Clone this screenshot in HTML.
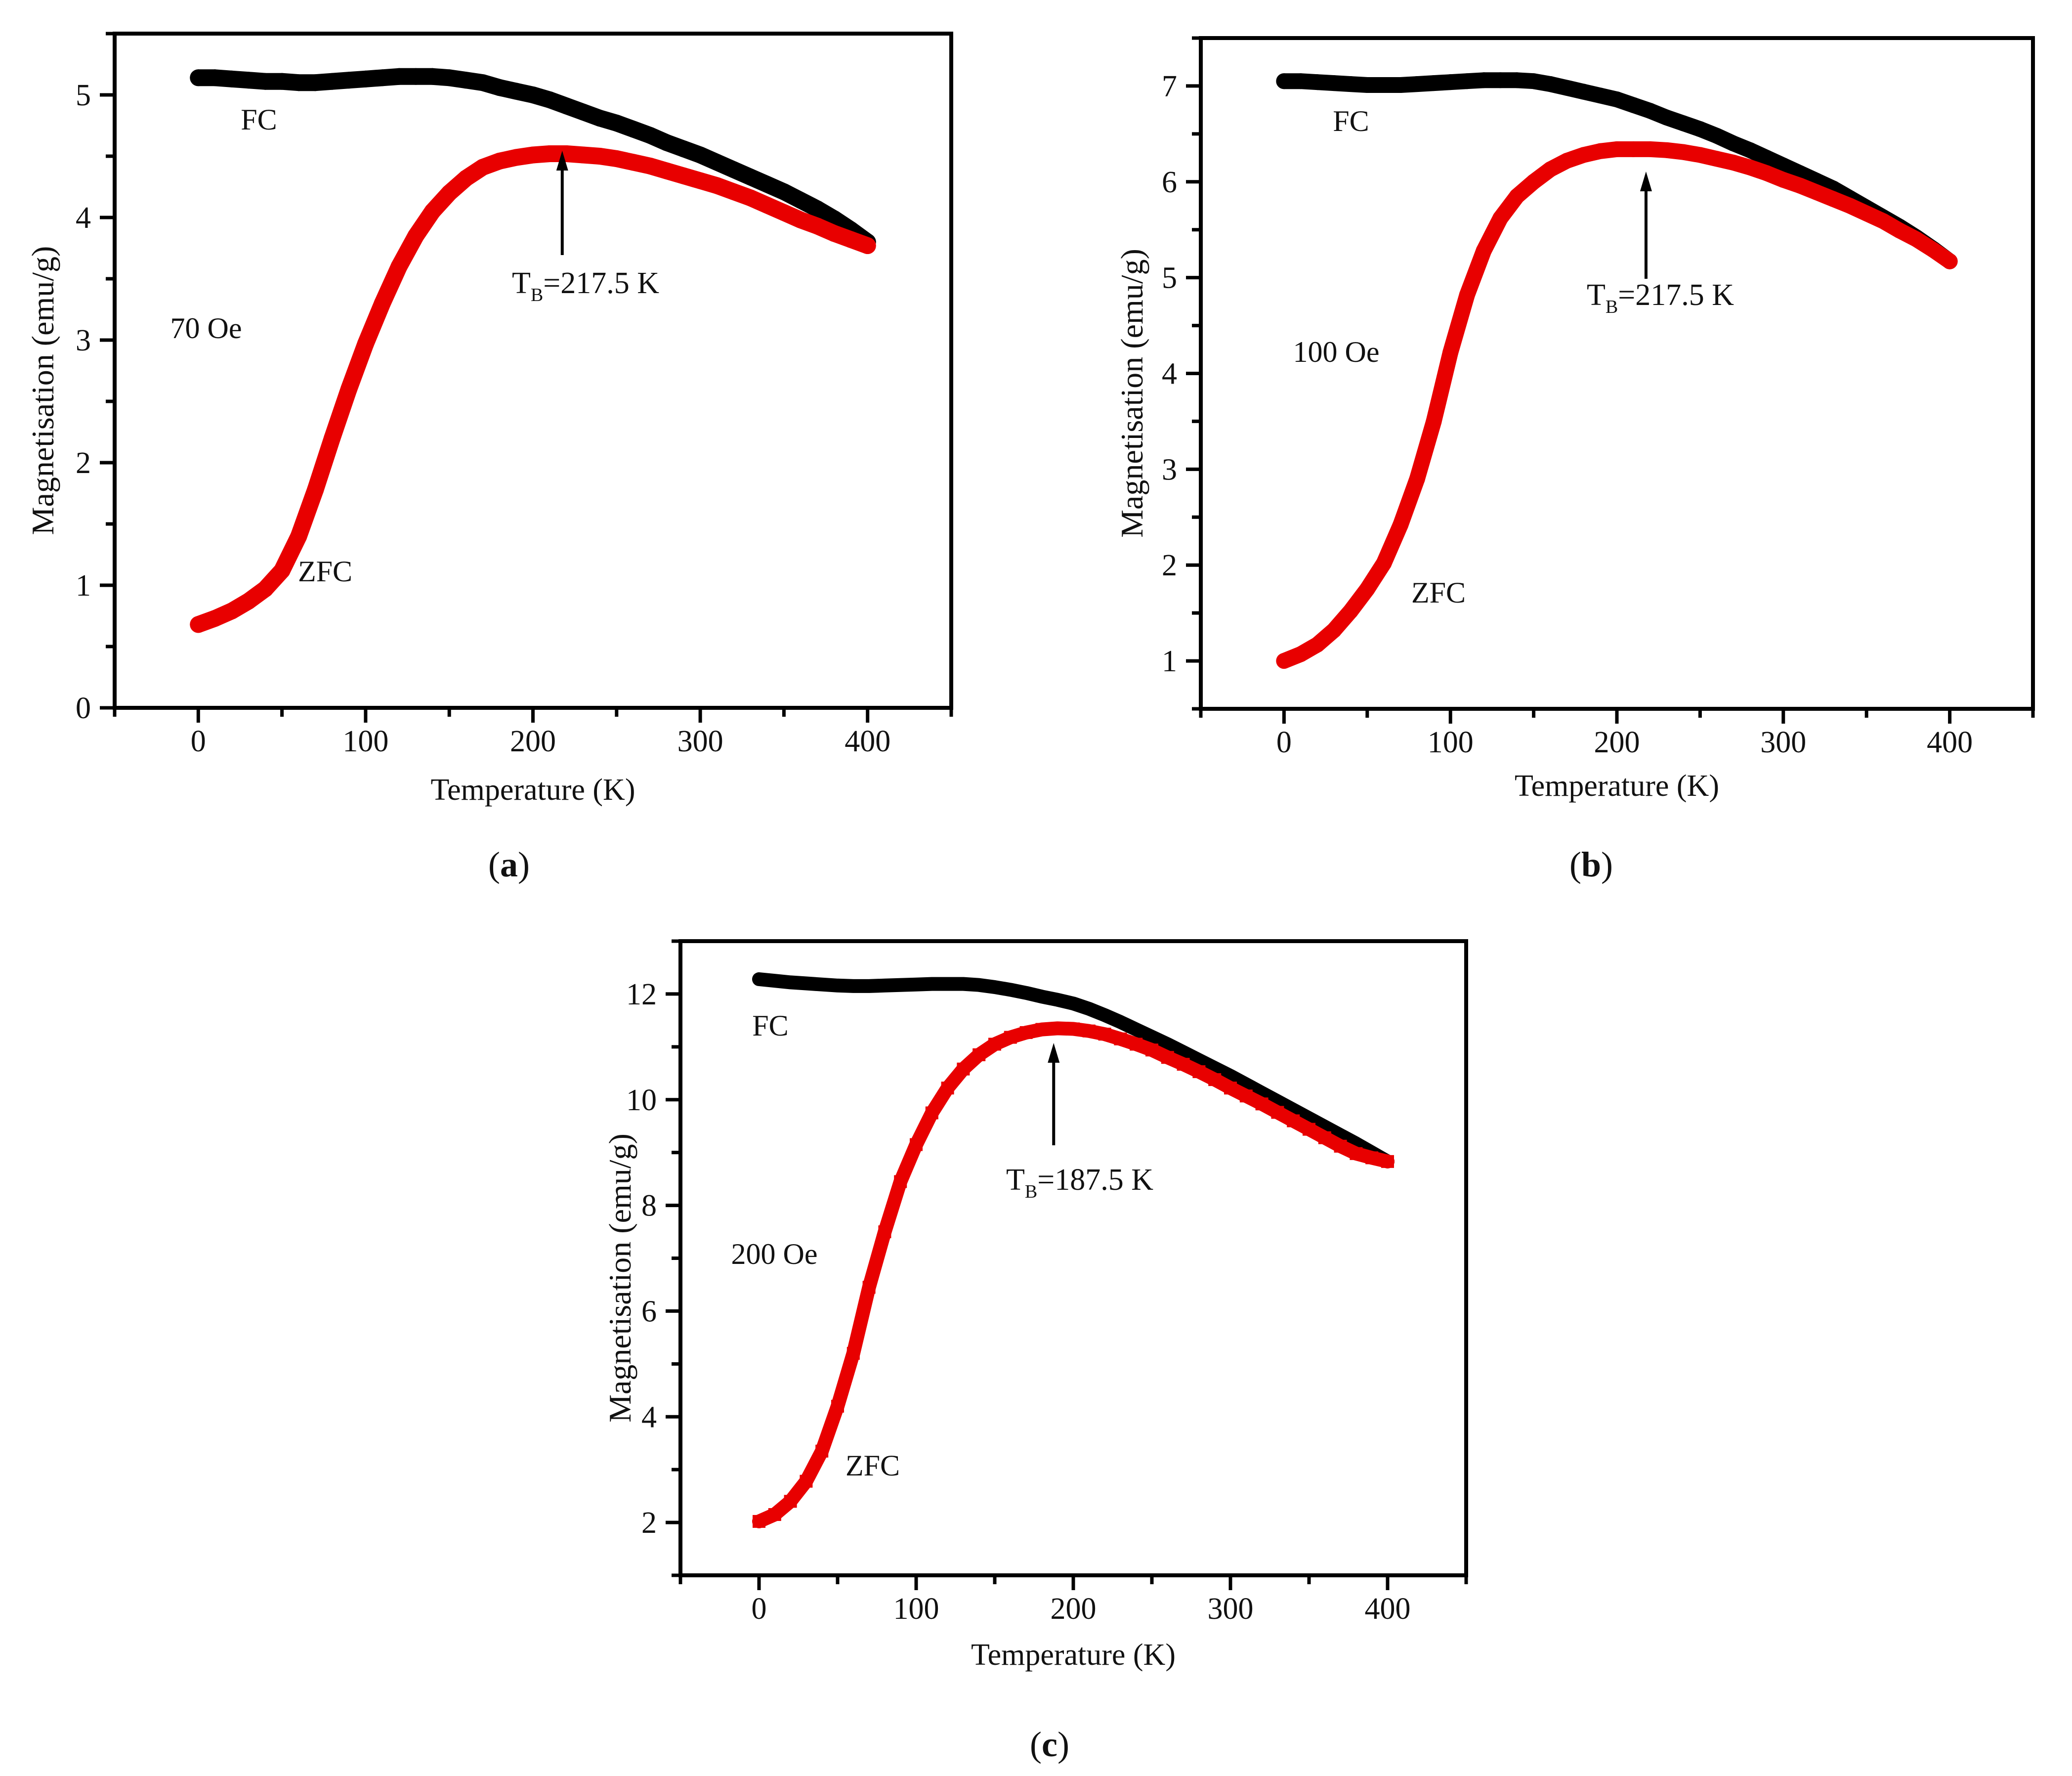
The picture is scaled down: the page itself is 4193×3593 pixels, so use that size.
<!DOCTYPE html>
<html>
<head>
<meta charset="utf-8">
<style>
  html,body{margin:0;padding:0;background:#fff;}
  svg{display:block;}
  text{font-family:"Liberation Serif","DejaVu Serif",serif;fill:#111;}
</style>
</head>
<body>
<svg id="fig" xmlns="http://www.w3.org/2000/svg" width="4193" height="3593" viewBox="0 0 4193 3593"></svg>
<script>
// ---------- Data (Temperature in K, Magnetisation in emu/g) ----------
const tempsA = [0,10,20,30,40,50,60,70,80,90,100,110,120,130,140,150,160,170,180,190,200,210,220,230,240,250,260,270,280,290,300,310,320,330,340,350,360,370,380,390,400];
const fcA  = [5.14,5.14,5.13,5.12,5.11,5.11,5.10,5.10,5.11,5.12,5.13,5.14,5.15,5.15,5.15,5.14,5.12,5.10,5.06,5.03,5.00,4.96,4.91,4.86,4.81,4.77,4.72,4.67,4.61,4.56,4.51,4.45,4.39,4.33,4.27,4.21,4.14,4.07,3.99,3.90,3.80];
const zfcA = [0.68,0.73,0.79,0.87,0.97,1.12,1.40,1.78,2.20,2.60,2.97,3.30,3.60,3.85,4.05,4.20,4.32,4.41,4.46,4.49,4.51,4.52,4.52,4.51,4.50,4.48,4.45,4.42,4.38,4.34,4.30,4.26,4.21,4.16,4.10,4.04,3.98,3.93,3.87,3.82,3.77];

const tempsB = [0,10,20,30,40,50,60,70,80,90,100,110,120,130,140,150,160,170,180,190,200,210,220,230,240,250,260,270,280,290,300,310,320,330,340,350,360,370,380,390,400];
const fcB  = [7.05,7.05,7.04,7.03,7.02,7.01,7.01,7.01,7.02,7.03,7.04,7.05,7.06,7.06,7.06,7.05,7.02,6.98,6.94,6.90,6.86,6.80,6.74,6.67,6.61,6.55,6.48,6.40,6.33,6.25,6.17,6.09,6.01,5.93,5.83,5.73,5.63,5.53,5.42,5.30,5.17];
const zfcB = [1.00,1.07,1.17,1.32,1.52,1.75,2.02,2.42,2.90,3.50,4.22,4.82,5.28,5.62,5.85,6.00,6.13,6.22,6.28,6.32,6.34,6.34,6.34,6.33,6.31,6.28,6.24,6.20,6.15,6.09,6.02,5.96,5.89,5.82,5.75,5.67,5.59,5.49,5.40,5.29,5.17];

const tempsC = [0,10,20,30,40,50,60,70,80,90,100,110,120,130,140,150,160,170,180,190,200,210,220,230,240,250,260,270,280,290,300,310,320,330,340,350,360,370,380,390,400];
const fcC  = [12.28,12.25,12.22,12.20,12.18,12.16,12.15,12.15,12.16,12.17,12.18,12.19,12.19,12.19,12.17,12.13,12.08,12.02,11.95,11.89,11.82,11.72,11.60,11.47,11.33,11.19,11.05,10.90,10.75,10.60,10.45,10.29,10.13,9.97,9.81,9.65,9.49,9.33,9.17,9.00,8.83];
const zfcC = [2.02,2.15,2.40,2.78,3.35,4.20,5.20,6.45,7.50,8.45,9.15,9.75,10.22,10.58,10.85,11.05,11.18,11.27,11.33,11.35,11.34,11.30,11.24,11.15,11.05,10.94,10.80,10.67,10.53,10.38,10.22,10.07,9.92,9.76,9.60,9.44,9.28,9.12,8.98,8.90,8.83];

const xTicks = [0,100,200,300,400];
const yTicksA = [0,1,2,3,4,5];
const yTicksB = [1,2,3,4,5,6,7];
const yTicksC = [2,4,6,8,10,12];

const NS = "http://www.w3.org/2000/svg";
const svg = document.getElementById('fig');
function el(tag, attrs, parent){
  const e = document.createElementNS(NS, tag);
  for (const k in attrs) e.setAttribute(k, attrs[k]);
  (parent||svg).appendChild(e);
  return e;
}

function panel(cfg){
  const g = el('g', {});
  
  
  const L=cfg.L, R=cfg.R, T=cfg.T, B=cfg.B;
  const xs = v => L + (v - cfg.xmin) / (cfg.xmax - cfg.xmin) * (R - L);
  const ys = v => B - (v - cfg.ymin) / (cfg.ymax - cfg.ymin) * (B - T);

  const fr = el('rect', {x:L, y:T, width:R-L, height:B-T, fill:'none', stroke:'#000', 'stroke-width':8}, g);
  
  

  for (let v = cfg.xmin; v <= cfg.xmax + 0.001; v += 50){
    const major = (Math.round(v) % 100 === 0);
    const t = el('line', {x1:xs(v), x2:xs(v), y1:B, y2:B + (major?30:18), stroke:'#000', 'stroke-width':7}, g);
    
    
  }
  xTicks.forEach(v => {
    const tx = el('text', {x:xs(v), y:B + 88, 'font-size':62, 'text-anchor':'middle'}, g);
    tx.textContent = v;
    
    
  });
  for (let v = cfg.ymin; v <= cfg.ymax + 0.001; v += cfg.minor){
    const major = cfg.yTicks.some(t => Math.abs(t - v) < 1e-6);
    const t = el('line', {x1:L, x2:L - (major?30:18), y1:ys(v), y2:ys(v), stroke:'#000', 'stroke-width':7}, g);
    
    
  }
  cfg.yTicks.forEach(v => {
    const tx = el('text', {x:L - 48, y:ys(v) + 21, 'font-size':62, 'text-anchor':'end'}, g);
    tx.textContent = v;
    
    
  });
  const xt = el('text', {x:(L+R)/2, y:cfg.xTitleY, 'font-size':62, 'text-anchor':'middle'}, g);
  xt.textContent = 'Temperature (K)';
  
  
  const yc = (T+B)/2 + 40;
  const yt = el('text', {x:cfg.yTitleX, y:yc, 'font-size':64, 'text-anchor':'middle', transform:`rotate(-90 ${cfg.yTitleX} ${yc})`}, g);
  yt.textContent = 'Magnetisation (emu/g)';
  
  

  function series(vals, temps, color, name){
    const sg = el('g', {}, g);
    
    
    const pts = temps.map((t,i) => xs(t).toFixed(1) + ',' + ys(vals[i]).toFixed(1)).join(' ');
    el('polyline', {points:pts, fill:'none', stroke:color, 'stroke-width':cfg.band, 'stroke-linejoin':'round', 'stroke-linecap':'round'}, sg);
    temps.forEach((t,i) => {
      let m;
      if (cfg.square && color !== '#000'){
        m = el('rect', {x:xs(t)-cfg.ms, y:ys(vals[i])-cfg.ms, width:2*cfg.ms, height:2*cfg.ms, fill:color}, sg);
      } else {
        m = el('circle', {cx:xs(t), cy:ys(vals[i]), r:cfg.ms, fill:color}, sg);
      }
      
      
    });
  }
  series(cfg.fc, cfg.temps, '#000', 'fc-series');
  series(cfg.zfc, cfg.temps, '#e80000', 'zfc-series');

  const ann = (txt, x, y, nm) => {
    const a = el('text', {x:x, y:y, 'font-size':60, 'text-anchor':'middle'}, g);
    a.textContent = txt;
    
    
  };
  ann('FC', cfg.fcLab[0], cfg.fcLab[1], 'fc-label');
  ann('ZFC', cfg.zfcLab[0], cfg.zfcLab[1], 'zfc-label');
  ann(cfg.field, cfg.fieldLab[0], cfg.fieldLab[1], 'field-label');

  const ax = xs(cfg.tb);
  const arr = el('g', {}, g);
  
  
  el('line', {x1:ax, x2:ax, y1:cfg.arrow[0], y2:cfg.arrow[1] + 30, stroke:'#000', 'stroke-width':6}, arr);
  el('polygon', {points:`${ax},${cfg.arrow[1]} ${ax-12},${cfg.arrow[1]+40} ${ax+12},${cfg.arrow[1]+40}`, fill:'#000'}, arr);

  const tb = el('text', {x:cfg.tbLab[0], y:cfg.tbLab[1], 'font-size':62, 'text-anchor':'middle'}, g);
  
  
  const t1 = el('tspan', {}, tb); t1.textContent = 'T';
  const t2 = el('tspan', {dy:16, 'font-size':38}, tb); t2.textContent = 'B';
  const t3 = el('tspan', {dy:-16}, tb); t3.textContent = '=' + cfg.tb + ' K';

  const pl = el('text', {x:cfg.plab[0], y:cfg.plab[1], 'font-size':72, 'text-anchor':'middle'}, g);
  
  
  const p1 = el('tspan', {}, pl); p1.textContent = '(';
  const p2 = el('tspan', {'font-weight':'bold'}, pl); p2.textContent = cfg.letter;
  const p3 = el('tspan', {}, pl); p3.textContent = ')';
}

panel({name:'panel-a-70-oe', L:232, R:1925, T:68, B:1432, xmin:-50, xmax:450, ymin:0, ymax:5.5, minor:0.5,
  yTicks:yTicksA, temps:tempsA, fc:fcA, zfc:zfcA, band:34, ms:17, square:false,
  xTitleY:1618, yTitleX:108, fcLab:[524,262], zfcLab:[658,1176], field:'70 Oe', fieldLab:[417,684],
  tb:217.5, arrow:[516,305], tbLab:[1185,593], plab:[1030,1773], letter:'a'});

panel({name:'panel-b-100-oe', L:2430, R:4114, T:77, B:1434, xmin:-50, xmax:450, ymin:0.5, ymax:7.5, minor:0.5,
  yTicks:yTicksB, temps:tempsB, fc:fcB, zfc:zfcB, band:32, ms:16, square:false,
  xTitleY:1610, yTitleX:2312, fcLab:[2734,265], zfcLab:[2911,1219], field:'100 Oe', fieldLab:[2704,732],
  tb:217.5, arrow:[564,347], tbLab:[3360,617], plab:[3220,1773], letter:'b'});

panel({name:'panel-c-200-oe', L:1377, R:2967, T:1904, B:3187, xmin:-50, xmax:450, ymin:1, ymax:13, minor:1,
  yTicks:yTicksC, temps:tempsC, fc:fcC, zfc:zfcC, band:28, ms:13, square:true,
  xTitleY:3368, yTitleX:1276, fcLab:[1559,2095], zfcLab:[1766,2985], field:'200 Oe', fieldLab:[1567,2557],
  tb:187.5, arrow:[2317,2110], tbLab:[2185,2407], plab:[2124,3553], letter:'c'});
</script>
</body>
</html>
